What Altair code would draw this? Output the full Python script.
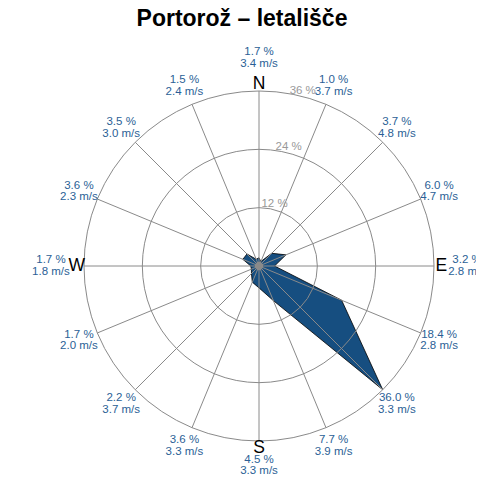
import altair as alt
import pandas as pd

# ---- data ----
directions = ["N", "NNE", "NE", "ENE", "E", "ESE", "SE", "SSE",
              "S", "SSW", "SW", "WSW", "W", "WNW", "NW", "NNW"]
frequency = [1.7, 1.0, 3.7, 6.0, 3.2, 18.4, 36.0, 7.7,
             4.5, 3.6, 2.2, 1.7, 1.7, 3.6, 3.5, 1.5]
speed = [3.4, 3.7, 4.8, 4.7, 2.8, 2.8, 3.3, 3.9,
         3.3, 3.3, 3.7, 2.0, 1.8, 2.3, 3.0, 2.4]
ring_values = [12, 24, 36]
compass_points = ["N", "E", "S", "W"]
title_text = "Portorož – letališče"

# ---- styling / layout ----
FONT = "Liberation Sans"
FILL = "#164e80"
TEXT_BLUE = "#2b5f96"
GRID = "#8a8a8a"
RMAX = 36.0
R_PX = 175.0
K = R_PX / RMAX           # pixels per percent
W, H = 468, 443
CX, CY = 251, 231         # centre inside the view (px)

xscale = alt.Scale(domain=[-CX / K, (W - CX) / K], nice=False, zero=False)
yscale = alt.Scale(domain=[-(H - CY) / K, CY / K], nice=False, zero=False)

n = len(directions)
step = 360.0 / n
dir_df = pd.DataFrame({
    "dir": directions,
    "idx": list(range(n)),
    "freq": frequency,
    "speed": speed,
})
dir_df["ang"] = dir_df["idx"] * step
dir_df["label"] = [f"{f:.1f} %\n{s:.1f} m/s" for f, s in zip(frequency, speed)]

ring_df = pd.DataFrame({"r": ring_values})
ring_df["label"] = [f"{r} %" for r in ring_values]
compass_df = pd.DataFrame({"name": compass_points,
                           "ang": [i * 90.0 for i in range(len(compass_points))]})
centre_df = pd.DataFrame({"r": [0]})

X = lambda f: alt.X(f, type="quantitative", scale=xscale, axis=None)
Y = lambda f: alt.Y(f, type="quantitative", scale=yscale, axis=None)

polygon = alt.Chart(dir_df).transform_calculate(
    px="datum.freq * sin(datum.ang * PI / 180)",
    py="datum.freq * cos(datum.ang * PI / 180)",
).mark_line(
    fill=FILL, stroke="black", strokeWidth=0.8, interpolate="linear-closed"
).encode(x=X("px"), y=Y("py"), order=alt.Order("idx:Q"))

spokes = alt.Chart(dir_df).transform_calculate(
    x0="0", y0="0",
    x1=f"{RMAX} * sin(datum.ang * PI / 180)",
    y1=f"{RMAX} * cos(datum.ang * PI / 180)",
).mark_rule(color=GRID, strokeWidth=1).encode(
    x=X("x0"), y=Y("y0"), x2="x1:Q", y2="y1:Q"
)

rings = alt.Chart(ring_df).transform_calculate(
    x0="0", y0="0", sz=f"pow(2 * datum.r * {K}, 2)"
).mark_point(shape="circle", filled=False, stroke=GRID, strokeWidth=1, opacity=1).encode(
    x=X("x0"), y=Y("y0"), size=alt.Size("sz:Q", scale=None)
)

centre = alt.Chart(centre_df).transform_calculate(
    x0="0", y0="0"
).mark_point(shape="circle", filled=True, color="#8a8a8a", size=70, opacity=1).encode(
    x=X("x0"), y=Y("y0")
)

ring_labels = alt.Chart(ring_df).transform_calculate(
    lx="(datum.r + 1.2) * sin(14 * PI / 180)",
    ly="(datum.r + 1.2) * cos(14 * PI / 180)",
).mark_text(font=FONT, fontSize=11.5, color="#999999", align="center", baseline="middle").encode(
    x=X("lx"), y=Y("ly"), text="label:N"
)

compass = alt.Chart(compass_df).transform_calculate(
    lx="37.5 * sin(datum.ang * PI / 180)",
    ly="37.5 * cos(datum.ang * PI / 180)",
).mark_text(font=FONT, fontSize=17.5, color="black", align="center", baseline="middle").encode(
    x=X("lx"), y=Y("ly"), text="name:N"
)

dir_labels = alt.Chart(dir_df).transform_calculate(
    lr="datum.ang == 180 ? 41.0 : ((datum.ang % 90 == 0) ? 42.8 : 40.1)",
).transform_calculate(
    lx="datum.lr * sin(datum.ang * PI / 180)",
    ly="datum.lr * cos(datum.ang * PI / 180)",
).mark_text(font=FONT, fontSize=11.5, color=TEXT_BLUE, align="center",
            baseline="middle", lineBreak="\n", lineHeight=11.5, dy=-5.75,
            clip=True).encode(
    x=X("lx"), y=Y("ly"), text="label:N"
)

chart = alt.layer(
    polygon, spokes, rings, centre, ring_labels, compass, dir_labels
).properties(
    width=W, height=H, padding=0,
    title=alt.Title(title_text, font=FONT, fontSize=23, fontWeight="bold",
                    anchor="middle", offset=4, color="black"),
).configure_view(stroke=None)

chart.save("out.html", embed_options={"renderer": "svg", "actions": False})
